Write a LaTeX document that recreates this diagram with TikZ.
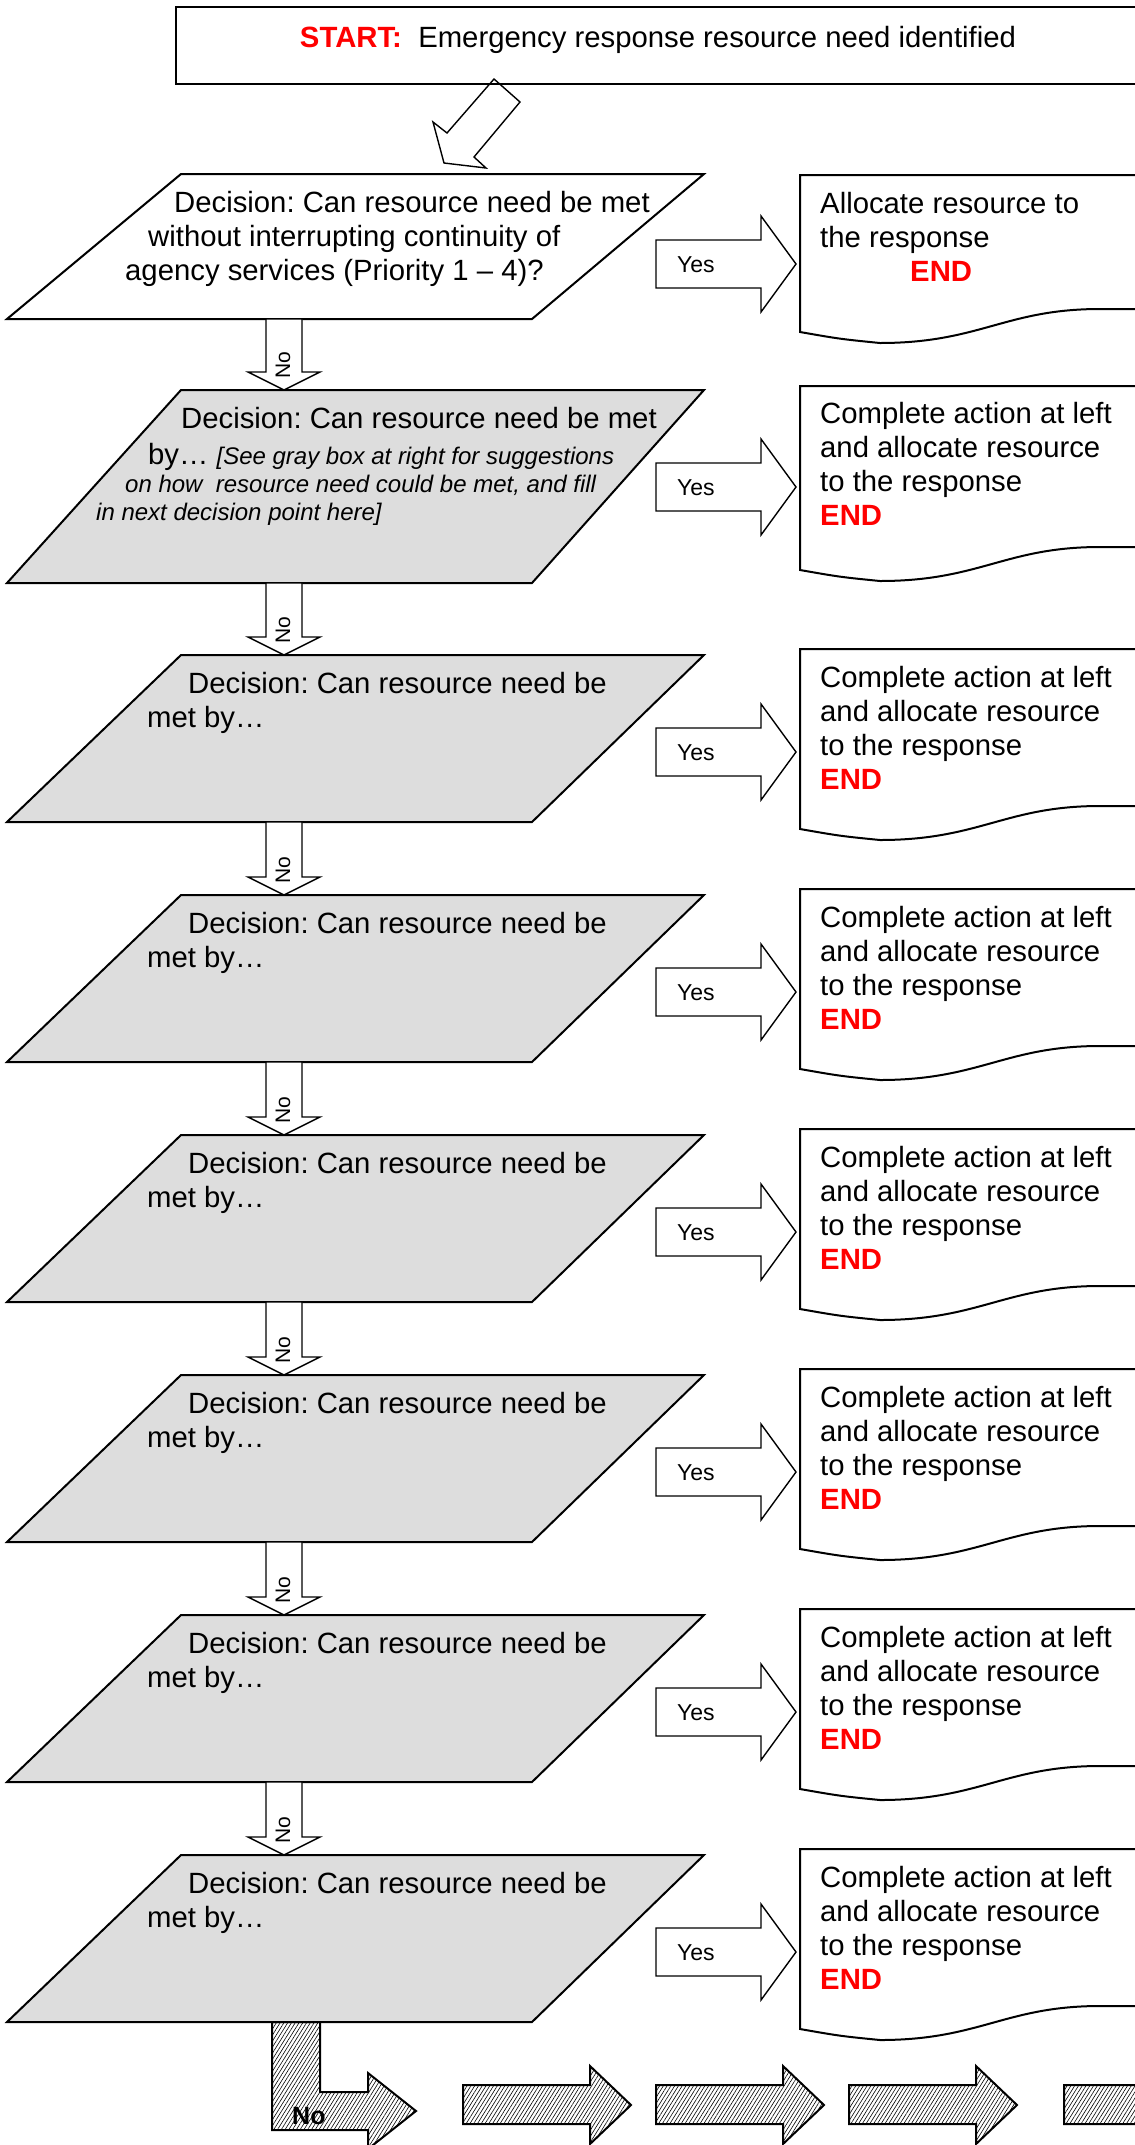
\documentclass[tikz,border=0pt]{standalone}
\usepackage{fontspec}
\setmainfont{Liberation Sans}
\usepackage{xcolor}
\usetikzlibrary{positioning,calc,patterns.meta}

\definecolor{boxgray}{RGB}{221,221,221}
\newcommand{\stopmark}{\textcolor{red}{\textbf{END}}}
\frenchspacing

\tikzset{
  shapeline/.style={draw=black, line width=2pt, line join=miter},
  decwhite/.style={shapeline, fill=white},
  decgray/.style={shapeline, fill=boxgray},
  blockarrow/.style={draw=black, line width=1.4pt, fill=white, line join=miter},
  hatcharrow/.style={draw=black, line width=2pt, line join=miter,
    pattern={Lines[angle=58,distance=3.2pt,line width=0.6pt]}, pattern color=black},
  bodytext/.style={inner sep=0pt, align=left, anchor=north west,
    font=\fontsize{29.3}{34}\selectfont},
  yestext/.style={inner sep=0pt, anchor=base west, font=\fontsize{23}{27}\selectfont},
  notext/.style={inner sep=0pt, rotate=90, font=\fontsize{21}{25}\selectfont},
}

\begin{document}
\begin{tikzpicture}[x=1pt, y=-1pt]
  \path[use as bounding box, clip] (0,0) rectangle (1135,2145);

  % Start
  \draw[blockarrow] (494,79) -- (520,102) -- (474,157) -- (486,168) -- (444,163) -- (433,122) -- (447,133) -- cycle;
  \node[draw, line width=2pt, minimum width=964pt, minimum height=77pt, inner sep=0pt,
    text height=21pt, text depth=18pt, font=\fontsize{29.3}{34}\selectfont] (start) at (658,45.5)
    {\textcolor{red}{\textbf{START:}}\ \ Emergency response resource need identified};

  % Decision 1
  \draw[decwhite] (181,174) -- (704,174) -- (532,319) -- (7,319) -- cycle;
  \node[bodytext] (dec1) at (125,191) {%
    \hspace*{49pt}Decision: Can resource need be met\\
    \hspace*{23pt}without interrupting continuity of\\
    agency services (Priority 1 -- 4)?};
  \draw[blockarrow] (656,240) -- (761,240) -- (761,216) -- (796,264) -- (761,312) -- (761,288) -- (656,288) -- cycle;
  \node[yestext] (yes1) at (677,272) {Yes};
  \draw[shapeline, fill=white] (1140,175) -- (800,175) -- (800,332) .. controls (840,339) .. (880,343)
    .. controls (980,343) and (1005,309) .. (1100,309) -- (1140,309);
  \node[bodytext] (doc1) at (820,192) {Allocate resource to\\the response\\\hspace*{90pt}\stopmark};
  \draw[blockarrow] (266,319) -- (302,319) -- (302,372) -- (320,372) -- (284,390) -- (248,372) -- (266,372) -- cycle;
  \node[notext] (no1) at (283,365) {No};

  % Decision 2
  \draw[decgray] (181,390) -- (704,390) -- (532,583) -- (7,583) -- cycle;
  \node[bodytext] (dec2) at (96,407) {%
    \hspace*{85pt}Decision: Can resource need be met\\[2pt]
    \hspace*{52pt}by\dots\ {\itshape\fontsize{24}{29}\selectfont [See gray box at right for suggestions}\\[-6pt]
    \hspace*{29pt}{\itshape\fontsize{24}{29}\selectfont on how\ \ resource need could be met, and fill}\\[-6pt]
    {\itshape\fontsize{24}{29}\selectfont in next decision point here]}};
  \draw[blockarrow] (656,463) -- (761,463) -- (761,439) -- (796,487) -- (761,535) -- (761,511) -- (656,511) -- cycle;
  \node[yestext] (yes2) at (677,495) {Yes};
  \draw[shapeline, fill=white] (1140,386) -- (800,386) -- (800,570) .. controls (840,577) .. (880,581)
    .. controls (980,581) and (1005,547) .. (1100,547) -- (1140,547);
  \node[bodytext] (doc2) at (820,402) {Complete action at left\\and allocate resource\\to the response\\\stopmark};
  \draw[blockarrow] (266,583) -- (302,583) -- (302,637) -- (320,637) -- (284,655) -- (248,637) -- (266,637) -- cycle;
  \node[notext] (no2) at (283,630) {No};

  % Decisions 3 to 8
  \foreach \k [evaluate=\k as \t using {655+240*(\k-3)}] in {3,...,8} {
    \draw[decgray] (181,\t) -- (704,\t) -- (532,\t+167) -- (7,\t+167) -- cycle;
    \node[bodytext] (dec\k) at (147,\t+17) {\hspace*{41pt}Decision: Can resource need be\\met by\dots};
    \draw[blockarrow] (656,\t+73) -- (761,\t+73) -- (761,\t+49) -- (796,\t+97) -- (761,\t+145) -- (761,\t+121) -- (656,\t+121) -- cycle;
    \node[yestext] (yes\k) at (677,\t+105) {Yes};
    \draw[shapeline, fill=white] (1140,\t-6) -- (800,\t-6) -- (800,\t+174) .. controls (840,\t+181) .. (880,\t+185)
      .. controls (980,\t+185) and (1005,\t+151) .. (1100,\t+151) -- (1140,\t+151);
    \node[bodytext] (doc\k) at (820,\t+11) {Complete action at left\\and allocate resource\\to the response\\\stopmark};
  }
  \foreach \k [evaluate=\k as \t using {655+240*(\k-3)}] in {3,...,7} {
    \draw[blockarrow] (266,\t+167) -- (302,\t+167) -- (302,\t+222) -- (320,\t+222) -- (284,\t+240) -- (248,\t+222) -- (266,\t+222) -- cycle;
    \node[notext] (no\k) at (283,\t+215) {No};
  }

  % Way out
  \draw[hatcharrow] (272,2022) -- (320,2022) -- (320,2092) -- (368,2092) -- (368,2073) -- (416,2111) -- (368,2149) -- (368,2130) -- (272,2130) -- cycle;
  \node[inner sep=0pt, anchor=base west, font=\bfseries\fontsize{25}{30}\selectfont] (nolast) at (292,2124) {No};
  \foreach \x in {463,656,849,1064} {
    \draw[hatcharrow] (\x,2085) -- (\x+127,2085) -- (\x+127,2066) -- (\x+168,2105) -- (\x+127,2144) -- (\x+127,2124) -- (\x,2124) -- cycle;
  }
\end{tikzpicture}
\end{document}
